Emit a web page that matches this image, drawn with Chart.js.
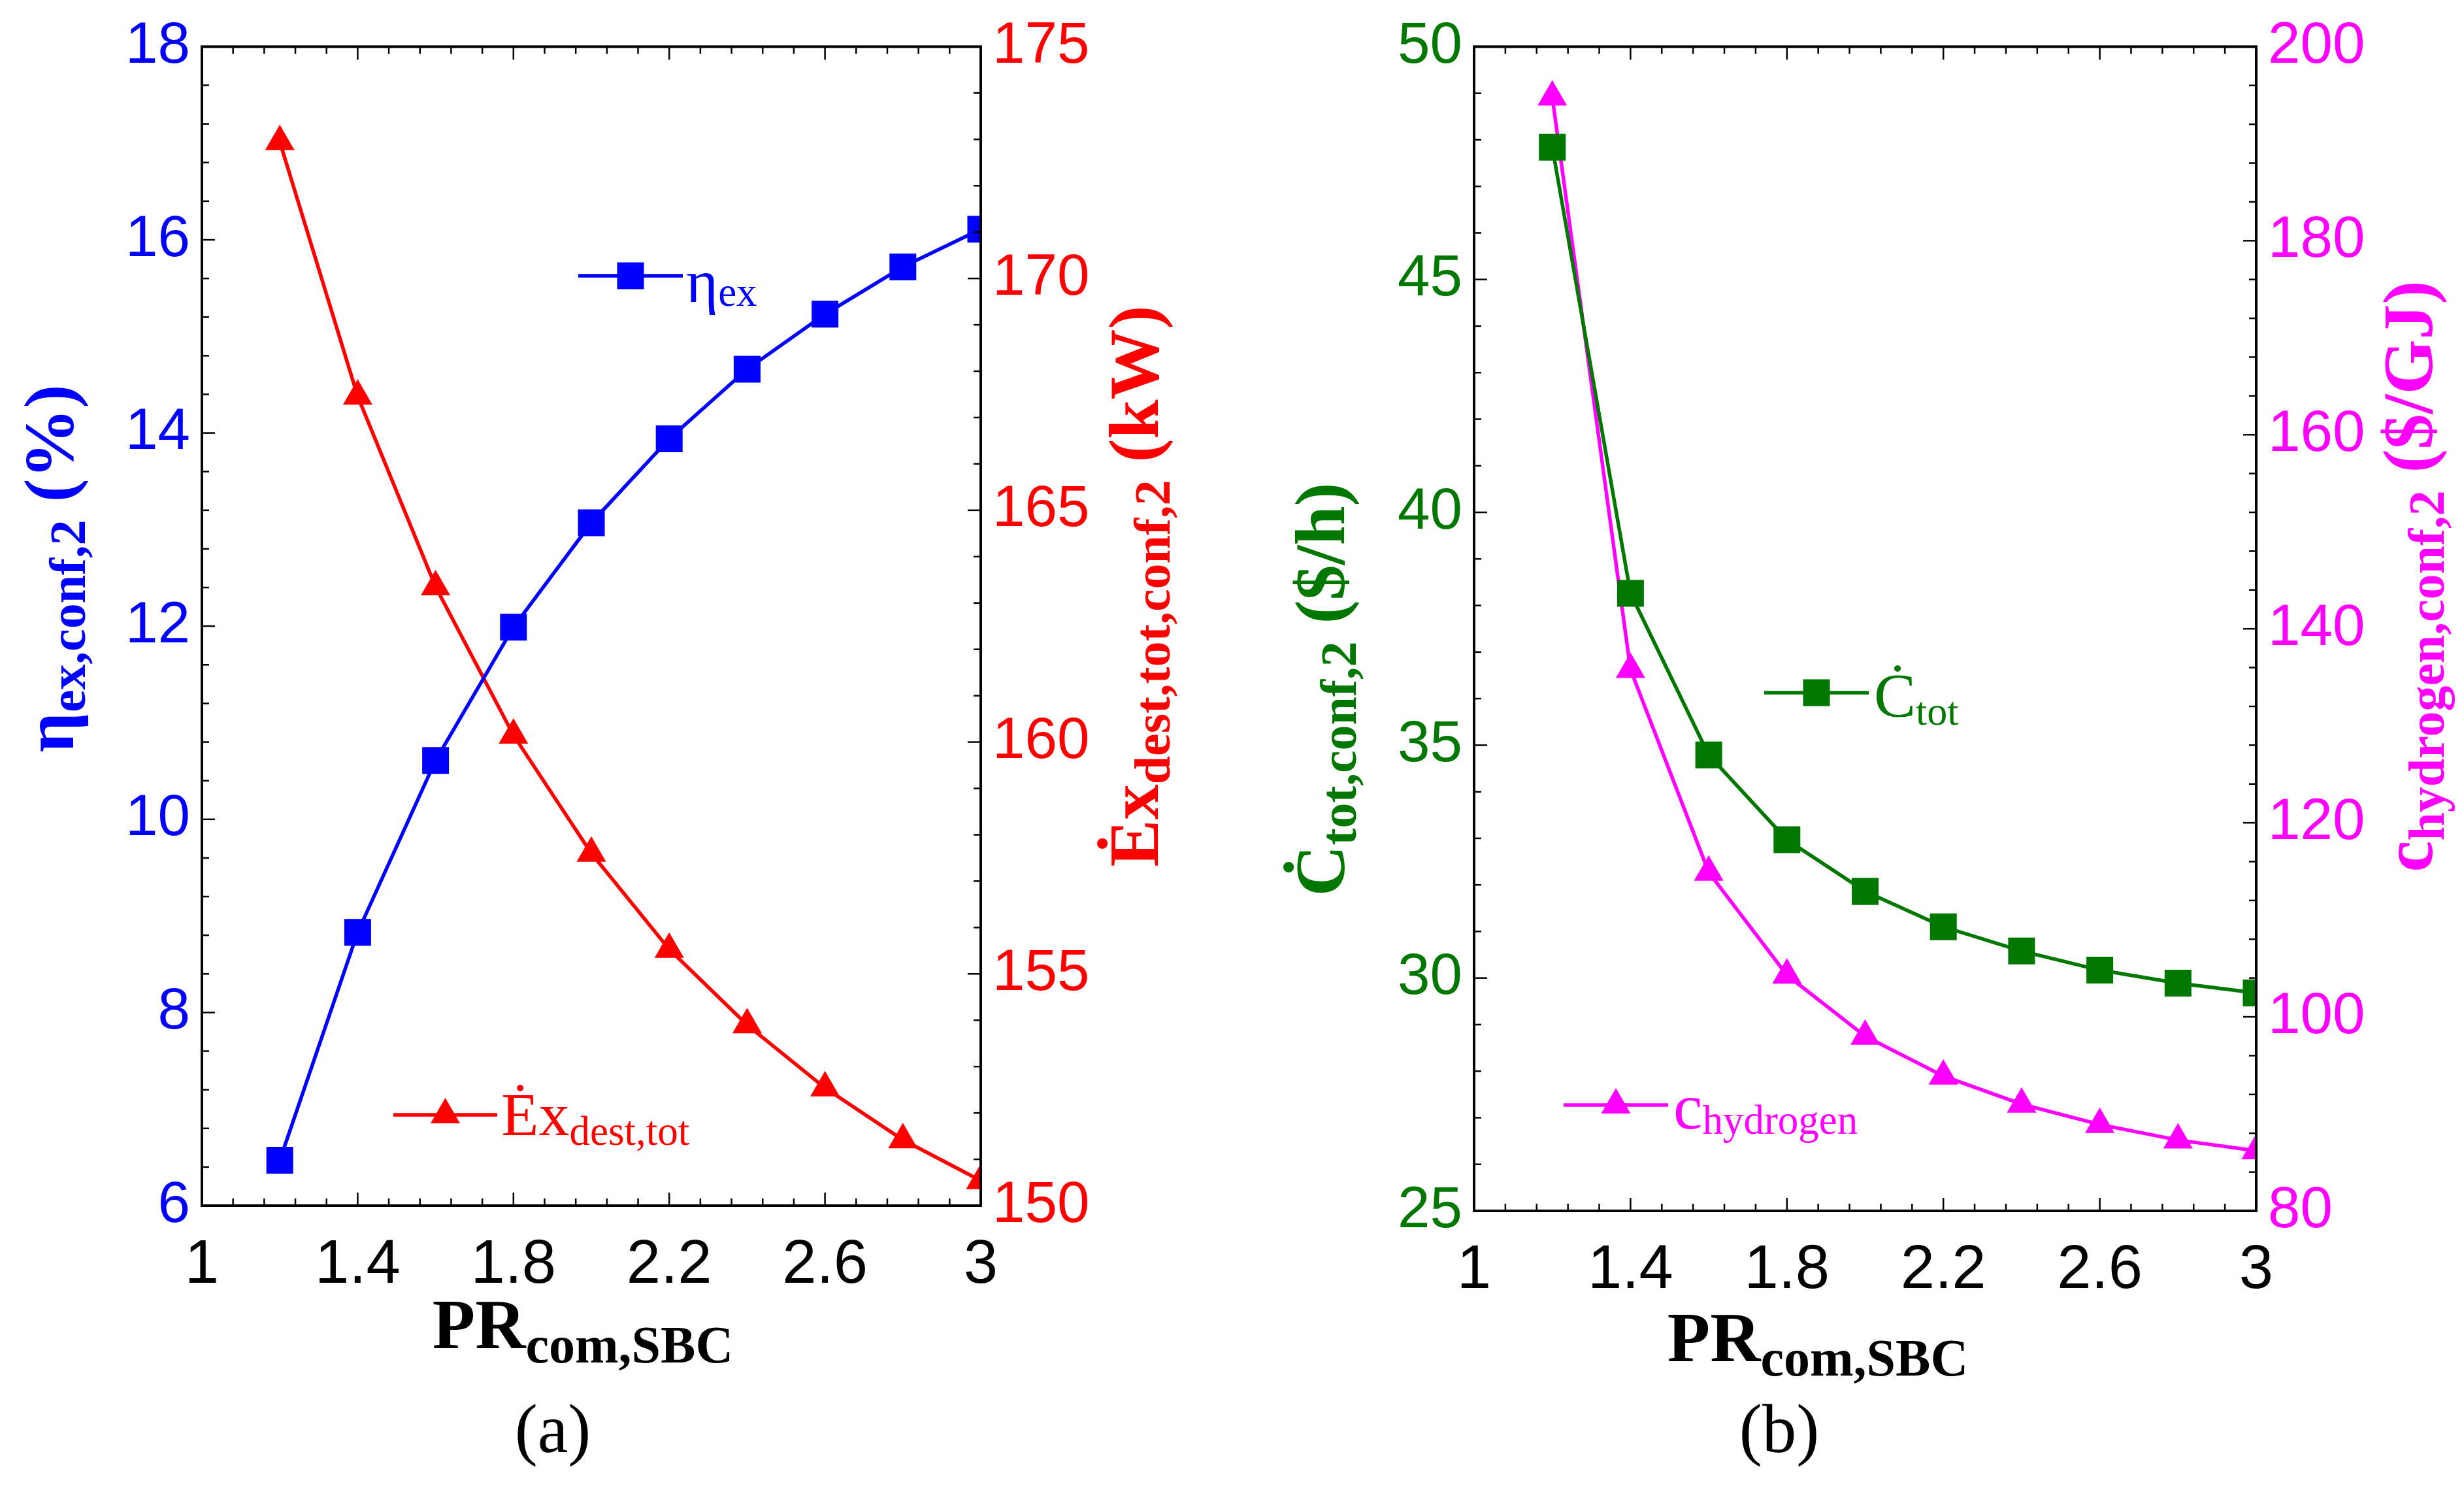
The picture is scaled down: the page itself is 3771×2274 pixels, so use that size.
<!DOCTYPE html>
<html>
<head>
<meta charset="utf-8">
<script src="https://cdn.jsdelivr.net/npm/chart.js@4.4.0/dist/chart.umd.min.js"></script>
<style>
  html, body { margin: 0; padding: 0; background: #fff; }
  #wrap { position: relative; width: 3771px; height: 2274px; }
  .panel { position: absolute; top: 0; height: 2274px; }
  #pa { left: 0; width: 1885px; }
  #pb { left: 1885px; width: 1886px; }
</style>
</head>
<body>
<div id="wrap">
  <div class="panel" id="pa"><canvas id="chartA"></canvas></div>
  <div class="panel" id="pb"><canvas id="chartB"></canvas></div>
</div>
<script>
// pressure ratio of the SBC compressor
const prValues = [1.2, 1.4, 1.6, 1.8, 2.0, 2.2, 2.4, 2.6, 2.8, 3.0];
// panel (a)
const etaEx  = [6.47, 8.83, 10.61, 11.99, 13.07, 13.94, 14.66, 15.23, 15.72, 16.11];
const exDest = [172.95, 167.46, 163.35, 160.15, 157.6, 155.53, 153.9, 152.54, 151.42, 150.54];
// panel (b)
const cTot      = [47.84, 38.26, 34.79, 32.97, 31.86, 31.1, 30.58, 30.17, 29.89, 29.68];
const cHydrogen = [194.8, 135.8, 114.9, 104.3, 98.0, 93.9, 91.0, 88.9, 87.3, 86.2];

const xTicks     = [1, 1.4, 1.8, 2.2, 2.6, 3];
const etaTicks   = [6, 8, 10, 12, 14, 16, 18];
const exTicks    = [150, 155, 160, 165, 170, 175];
const cTotTicks  = [25, 30, 35, 40, 45, 50];
const cH2Ticks   = [80, 100, 120, 140, 160, 180, 200];

const BLUE = '#0000FF', RED = '#FF0000', GREEN = '#007800', MAGENTA = '#FF00FF';
const SANS = "'Liberation Sans', Arial, sans-serif";
const SERIF = "'Liberation Serif', 'Times New Roman', serif";
const yTickFont = { family: SANS, size: 89 };
const xTickFont = { family: SANS, size: 94 };

const pts = ys => prValues.map((x, i) => ({ x: x, y: ys[i] }));
const setTicks = arr => scale => { scale.ticks = arr.map(v => ({ value: v })); };

// rich text with subscripts, optionally rotated
function richText(ctx, parts, x, y, o) {
  ctx.save();
  ctx.translate(x, y);
  if (o.rot) ctx.rotate(o.rot);
  ctx.fillStyle = o.color;
  ctx.textBaseline = 'alphabetic';
  ctx.textAlign = 'left';
  const fontOf = p => (o.bold ? 'bold ' : '') + p.s + 'px ' + SERIF;
  const w = parts.map(p => { ctx.font = fontOf(p); return ctx.measureText(p.t).width; });
  let cx = o.align === 'center' ? -w.reduce((a, b) => a + b, 0) / 2 : 0;
  parts.forEach((p, i) => {
    ctx.font = fontOf(p);
    ctx.fillText(p.t, cx, p.dy || 0);
    cx += w[i];
  });
  ctx.restore();
}

function marker(ctx, style, x, y, color) {
  ctx.fillStyle = color;
  ctx.beginPath();
  if (style === 'rect') {
    ctx.rect(x - 20.5, y - 20.5, 41, 41);
  } else {
    const r = 26;
    ctx.moveTo(x, y - r);
    ctx.lineTo(x + r * 0.866, y + r / 2);
    ctx.lineTo(x - r * 0.866, y + r / 2);
    ctx.closePath();
  }
  ctx.fill();
}

function tickMarks(ctx, scale, major, nMinor, side, a) {
  const step = (major[1] - major[0]) / nMinor;
  const n = Math.round((scale.max - scale.min) / step);
  for (let i = 0; i <= n; i++) {
    const v = scale.min + i * step;
    const len = i % nMinor === 0 ? 20 : 11;
    const p = scale.getPixelForValue(v);
    ctx.beginPath();
    if (side === 'bottom') { ctx.moveTo(p, a.bottom); ctx.lineTo(p, a.bottom - len); }
    if (side === 'top')    { ctx.moveTo(p, a.top);    ctx.lineTo(p, a.top + len); }
    if (side === 'left')   { ctx.moveTo(a.left, p);   ctx.lineTo(a.left + len, p); }
    if (side === 'right')  { ctx.moveTo(a.right, p);  ctx.lineTo(a.right - len, p); }
    ctx.stroke();
  }
}

const decoPlugin = {
  id: 'deco',
  afterDatasetsDraw(chart, args, opts) {
    const ctx = chart.ctx, a = chart.chartArea, s = chart.scales;
    ctx.save();
    ctx.strokeStyle = '#000';
    ctx.lineWidth = 2.5;
    tickMarks(ctx, s.x, xTicks, 5, 'bottom', a);
    tickMarks(ctx, s.x, xTicks, 5, 'top', a);
    tickMarks(ctx, s.yL, opts.leftTicks, 5, 'left', a);
    tickMarks(ctx, s.yR, opts.rightTicks, 5, 'right', a);
    ctx.lineWidth = 4;
    ctx.strokeRect(a.left, a.top, a.right - a.left, a.bottom - a.top);

    // in-plot legends
    opts.legends.forEach(l => {
      ctx.strokeStyle = l.color;
      ctx.lineWidth = 5.5;
      ctx.beginPath();
      ctx.moveTo(l.x1, l.y); ctx.lineTo(l.x2, l.y);
      ctx.stroke();
      marker(ctx, l.style, (l.x1 + l.x2) / 2, l.y, l.color);
      richText(ctx, l.parts, l.tx, l.ty, { color: l.color });
    });
    // axis titles and caption
    opts.texts.forEach(t => richText(ctx, t.parts, t.x, t.y, t));
    ctx.restore();
  }
};

function yAxis(pos, min, max, ticks, color, width) {
  return {
    type: 'linear', position: pos, min: min, max: max,
    afterBuildTicks: setTicks(ticks),
    afterFit: s => { s.width = width; },
    grid: { display: false, drawTicks: false },
    border: { display: false },
    ticks: { color: color, font: yTickFont, padding: 18, autoSkip: false, callback: v => String(v) }
  };
}

function lineSet(label, ys, axis, color, style) {
  return {
    label: label, data: pts(ys), yAxisID: axis,
    borderColor: color, backgroundColor: color, borderWidth: 5.5,
    pointStyle: style, pointRadius: style === 'rect' ? 29 : 26,
    pointBorderWidth: 0, pointBackgroundColor: color, tension: 0, clip: 2
  };
}

function makeChart(id, datasets, yL, yR, pad, deco) {
  return new Chart(document.getElementById(id), {
    type: 'line',
    data: { datasets: datasets },
    options: {
      responsive: true, maintainAspectRatio: false, animation: false, devicePixelRatio: 1,
      layout: { padding: pad },
      plugins: { legend: { display: false }, tooltip: { enabled: false }, deco: deco },
      scales: {
        x: {
          type: 'linear', min: 1, max: 3,
          afterBuildTicks: setTicks(xTicks),
          afterFit: s => { s.height = 130; },
          grid: { display: false, drawTicks: false },
          border: { display: false },
          ticks: { color: '#000', font: xTickFont, padding: 36, autoSkip: false, maxRotation: 0,
                   callback: v => String(v) }
        },
        yL: yL, yR: yR
      }
    },
    plugins: [decoPlugin]
  });
}

const R90 = -Math.PI / 2;

makeChart('chartA',
  [lineSet('ηex', etaEx, 'yL', BLUE, 'rect'), lineSet('Ėxdest,tot', exDest, 'yR', RED, 'triangle')],
  yAxis('left', 6, 18, etaTicks, BLUE, 309),
  yAxis('right', 150, 175, exTicks, RED, 384),
  { top: 53, bottom: 299, left: 0, right: 0 },
  {
    leftTicks: etaTicks, rightTicks: exTicks,
    legends: [
      { x1: 885, x2: 1045, y: 422, style: 'rect', color: BLUE, tx: 1050, ty: 462,
        parts: [{ t: 'η', s: 94 }, { t: 'ex', s: 63, dy: 6 }] },
      { x1: 602, x2: 761, y: 1706, style: 'triangle', color: RED, tx: 767, ty: 1737,
        parts: [{ t: 'Ėx', s: 94 }, { t: 'dest,tot', s: 63, dy: 15 }] }
    ],
    texts: [
      { parts: [{ t: 'η', s: 108 }, { t: 'ex,conf,2', s: 78, dy: 18 }, { t: ' (%)', s: 108 }],
        x: 112, y: 870, rot: R90, color: BLUE, bold: true, align: 'center' },
      { parts: [{ t: 'Ėx', s: 108 }, { t: 'dest,tot,conf,2', s: 78, dy: 18 }, { t: ' (kW)', s: 108 }],
        x: 1772, y: 897, rot: R90, color: RED, bold: true, align: 'center' },
      { parts: [{ t: 'PR', s: 107 }, { t: 'com,SBC', s: 80, dy: 22 }],
        x: 892, y: 2063, color: '#000', bold: true, align: 'center' },
      { parts: [{ t: '(a)', s: 105 }], x: 846, y: 2222, color: '#000', align: 'center' }
    ]
  });

makeChart('chartB',
  [lineSet('Ċtot', cTot, 'yL', GREEN, 'rect'), lineSet('chydrogen', cHydrogen, 'yR', MAGENTA, 'triangle')],
  yAxis('left', 25, 50, cTotTicks, GREEN, 371),
  yAxis('right', 80, 200, cH2Ticks, MAGENTA, 318),
  { top: 53, bottom: 291, left: 0, right: 0 },
  {
    leftTicks: cTotTicks, rightTicks: cH2Ticks,
    legends: [
      { x1: 815, x2: 975, y: 1060, style: 'rect', color: GREEN, tx: 983, ty: 1097,
        parts: [{ t: 'Ċ', s: 96 }, { t: 'tot', s: 62, dy: 12 }] },
      { x1: 508, x2: 668, y: 1691, style: 'triangle', color: MAGENTA, tx: 676, ty: 1727,
        parts: [{ t: 'c', s: 100 }, { t: 'hydrogen', s: 63, dy: 8 }] }
    ],
    texts: [
      { parts: [{ t: 'Ċ', s: 108 }, { t: 'tot,conf,2', s: 78, dy: 18 }, { t: ' ($/h)', s: 108 }],
        x: 172, y: 1055, rot: R90, color: GREEN, bold: true, align: 'center' },
      { parts: [{ t: 'c', s: 108 }, { t: 'hydrogen,conf,2', s: 78, dy: 18 }, { t: ' ($/GJ)', s: 108 }],
        x: 1837, y: 882, rot: R90, color: MAGENTA, bold: true, align: 'center' },
      { parts: [{ t: 'PR', s: 107 }, { t: 'com,SBC', s: 80, dy: 22 }],
        x: 897, y: 2083, color: '#000', bold: true, align: 'center' },
      { parts: [{ t: '(b)', s: 105 }], x: 838, y: 2222, color: '#000', align: 'center' }
    ]
  });
</script>
</body>
</html>
